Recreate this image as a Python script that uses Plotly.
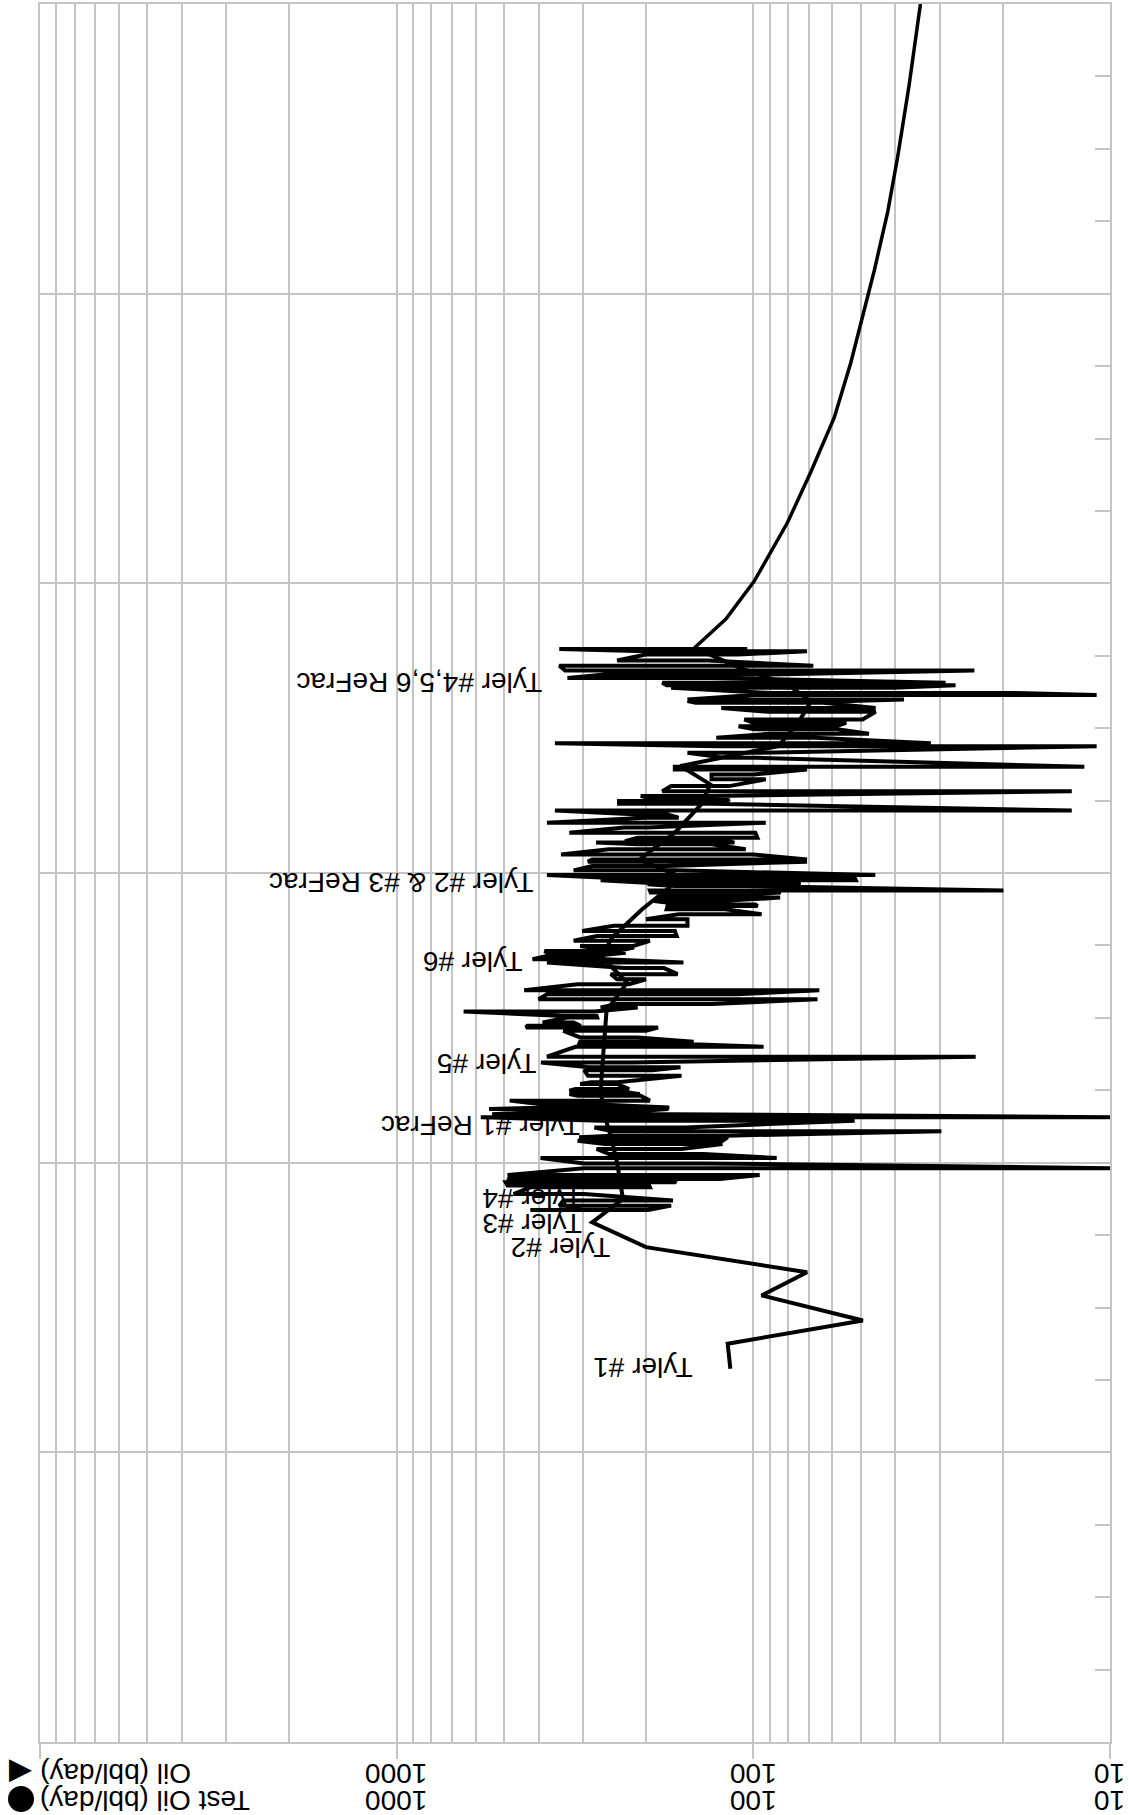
import numpy as np
import plotly.graph_objects as go

# ---------------- data (time in months, rates in bbl/day) ----------------
# daily oil readings: each time step has a high and a low reading
oil_t = [22.04, 22.22, 22.43, 22.70, 22.98, 23.05, 23.19, 23.26, 23.32, 23.49,
         23.77, 23.97, 24.19, 24.36, 24.57, 24.77, 24.91, 25.05, 25.12, 25.30,
         25.46, 25.74, 25.88, 26.01, 26.08, 26.22, 26.29, 26.43, 26.57, 26.77,
         26.84, 26.98, 27.05, 27.26, 27.33, 27.60, 27.83, 27.95, 28.15, 28.39,
         28.80, 28.91, 29.01, 29.19, 29.46, 29.60, 29.67, 29.81, 30.01, 30.08,
         30.26, 30.43, 30.57, 30.77, 30.98, 31.14, 31.39, 31.60, 31.81, 32.06,
         32.29, 32.43, 32.56, 32.70, 32.77, 32.91, 32.98, 33.19, 33.39, 33.60,
         33.81, 34.08, 34.29, 34.50, 34.63, 34.70, 34.84, 34.98, 35.12, 35.19,
         35.28, 35.46, 35.53, 35.60, 35.70, 35.81, 35.92, 36.11, 36.29, 36.47,
         36.56, 36.77, 36.98, 37.19, 37.26, 37.32, 37.46, 37.67, 37.88, 38.08,
         38.29, 38.43, 38.59, 38.87, 38.98, 39.05, 39.19, 39.39, 39.60, 39.88,
         40.08, 40.29, 40.40, 40.77, 40.98, 41.25, 41.38, 41.60, 41.77, 41.95,
         42.08, 42.22, 42.36, 42.68, 42.84, 43.05, 43.12, 43.19, 43.37, 43.46,
         43.67, 43.78, 43.88, 44.08, 44.22, 44.39, 44.59, 44.80, 45.05, 45.19,
         45.28]
oil_hi = [422, 350, 341, 470, 422, 489, 495, 484, 489, 489,
          298, 298, 395, 254, 275, 261, 311, 308, 248, 248,
          279, 268, 581, 540, 422, 551, 370, 400, 482, 311,
          328, 328, 315, 306, 285, 291, 298, 289, 394, 379,
          315, 308, 306, 306, 341, 434, 430, 390, 332, 341,
          649, 268, 241, 400, 379, 439, 311, 241, 251, 230,
          379, 416, 379, 378, 385, 285, 306, 319, 275, 302,
          246, 200, 162, 175, 174, 157, 190, 185, 166, 194,
          195, 166, 198, 200, 268, 268, 379, 319, 283, 291,
          283, 346, 254, 211, 276, 229, 211, 328, 230, 379,
          200, 217, 360, 238, 238, 185, 207, 180, 170, 131,
          131, 166, 166, 120, 153, 127, 360, 127, 90, 99.5,
          110, 100, 106, 91, 123, 145, 153, 153, 100, 90,
          170, 175, 180, 332, 261, 337, 350, 241, 200, 200,
          350]
oil_lo = [197, 170, 168, 298, 195, 196, 166, 165, 124, 96,
          9.5, 138, 86, 138, 159, 122, 122, 118, 119, 29.7,
          155, 52, 9.5, 170, 241, 173, 172, 291, 195, 207,
          208, 240, 223, 241, 240, 159, 192, 160, 220, 23.8,
          93.6, 148, 147, 211, 200, 185, 305, 319, 274, 275,
          279, 211, 131, 66.1, 111, 65.3, 223, 200, 163, 178,
          157, 261, 283, 228, 241, 216, 217, 195, 164, 166,
          153, 153, 94.8, 120, 97.3, 98.7, 124, 84.1, 103, 83.7,
          19.9, 105, 73.6, 89.9, 51.6, 52.0, 45.5, 166, 175, 70.7,
          70.7, 100, 105, 131, 113, 117, 97.4, 98.7, 198, 92.3,
          162, 175, 12.8, 131, 118, 117, 129, 12.8, 117, 92.3,
          100, 70.7, 11.8, 97.4, 97.4, 10.9, 31.8, 67.0, 47.4, 58.1,
          58.7, 54.9, 49.4, 45.4, 45.4, 63.6, 56.8, 37.8, 10.9, 18.9,
          40.4, 27.1, 28.9, 131, 89.9, 24.0, 67.9, 134, 110, 70.7,
          104]

# smoother oil trend (monthly)
trend_t = [15.46, 16.50, 17.46, 18.50, 19.46, 20.50, 21.53, 22.43, 22.50, 24.01,
           25.0, 26.0, 27.0, 28.0, 29.05, 30.29, 31.12, 31.46, 32.50, 33.3,
           34.5, 35.4, 35.94, 36.55, 37.67, 38.84, 39.67, 40.43, 41.25, 42.2,
           43.1, 43.8, 44.5, 45.2]
trend_rate = [116, 118, 49.3, 94.8, 70.7, 200, 283, 235, 232, 241,
              250, 262, 268, 265, 261, 258, 235, 226, 265, 250,
              205, 172, 166, 209, 166, 140, 132, 160, 85.2, 75,
              69, 80, 109, 140]

# decline forecast
forecast_t = [45.31, 46.52, 48.08, 49.30, 50.52, 52.61, 54.87, 57.14, 59.05,
              60.96, 63.39, 65.65, 68.61, 71.91, 72.0]
forecast_rate = [146.6, 119.4, 99.5, 89.3, 80.2, 69.0, 59.3, 53.3, 49.4,
                 45.8, 42.0, 39.4, 36.6, 34.1, 34.0]

# event labels
event_labels = ["Tyler #1", "Tyler #2", "Tyler #3", "Tyler #4", "Tyler #1 ReFrac",
                "Tyler #5", "Tyler #6", "Tyler #2 & #3 ReFrac", "Tyler #4,5,6 ReFrac"]
event_t = [15.52, 20.48, 21.48, 22.51, 25.53, 28.10, 32.36, 35.63, 43.90]
event_rate = [204, 347, 416, 416, 580, 559, 612, 971, 862]

tick_values = [10, 100, 1000]
legend_labels = ["Oil (bbl/day)", "Test Oil (bbl/day)"]

# ---------------- build figure ----------------
GRID = "#c4c4c4"
FONT = "Liberation Sans, Arial, sans-serif"
W, H = 1129, 1815
ML, MR, MT, MB = 40, 19, 2, 73
PW, PH = W - ML - MR, H - MT - MB

x_daily, y_daily = [], []
for i, (t, hi, lo) in enumerate(zip(oil_t, oil_hi, oil_lo)):
    pair = (hi, lo) if i % 2 == 0 else (lo, hi)
    x_daily += list(pair)
    y_daily += [t, t]

fig = go.Figure()
line_style = dict(color="black", width=4)
fig.add_trace(go.Scatter(x=x_daily, y=y_daily, mode="lines", line=line_style,
                         name="Oil (bbl/day)", hoverinfo="skip", showlegend=False))
fig.add_trace(go.Scatter(x=trend_rate, y=trend_t, mode="lines", line=line_style,
                         name="Oil trend", hoverinfo="skip", showlegend=False))
fig.add_trace(go.Scatter(x=forecast_rate, y=forecast_t, mode="lines",
                         line=dict(color="black", width=3.5),
                         name="Forecast", hoverinfo="skip", showlegend=False))

annotations = []
for lab, t, r in zip(event_labels, event_t, event_rate):
    annotations.append(dict(x=np.log10(r), y=t, xref="x", yref="y", text=lab,
                            showarrow=False, textangle=180,
                            xanchor="center", yanchor="middle",
                            font=dict(family=FONT, size=28, color="black")))

row_px = [1773, 1800]
for k, py in enumerate(row_px):
    yp = (H - MB - py) / PH
    for v in tick_values:
        annotations.append(dict(x=np.log10(v), y=yp, xref="x", yref="paper",
                                text=str(v), showarrow=False, textangle=180,
                                xanchor="center", yanchor="middle",
                                font=dict(family=FONT, size=28, color="black")))
    annotations.append(dict(x=(38 - ML) / PW, y=yp, xref="paper", yref="paper",
                            text=legend_labels[k], showarrow=False, textangle=180,
                            xanchor="left", yanchor="middle",
                            font=dict(family=FONT, size=28, color="black")))

# legend marker glyphs: triangle as text, circle as a pixel-sized shape
annotations.append(dict(x=(21 - ML) / PW, y=(H - MB - 1773) / PH,
                        xref="paper", yref="paper", text="\u25C0",
                        showarrow=False, textangle=180,
                        xanchor="center", yanchor="middle",
                        font=dict(family="DejaVu Sans", size=30, color="black")))
shapes = [dict(type="circle", xref="paper", yref="paper",
               xsizemode="pixel", ysizemode="pixel",
               xanchor=(21 - ML) / PW, yanchor=(H - MB - 1799) / PH,
               x0=-13, x1=13, y0=-13, y1=13,
               fillcolor="black", line=dict(width=0), layer="above")]

fig.update_layout(
    width=W, height=H,
    margin=dict(l=ML, r=MR, t=MT, b=MB, pad=0),
    paper_bgcolor="white", plot_bgcolor="white",
    showlegend=False,
    annotations=annotations,
    shapes=shapes,
    xaxis=dict(type="log", range=[4, 1], dtick=1,
               showgrid=True, gridcolor=GRID, gridwidth=2,
               ticks="outside", ticklen=15, tickwidth=2, tickcolor=GRID,
               showticklabels=False, zeroline=False,
               showline=True, linecolor=GRID, linewidth=2, mirror=True,
               minor=dict(dtick="D1", showgrid=True, gridcolor=GRID, gridwidth=2, ticks="")),
    yaxis=dict(range=[0, 72], dtick=12, side="right",
               showgrid=True, gridcolor=GRID, gridwidth=2,
               ticks="", showticklabels=False, zeroline=False,
               showline=True, linecolor=GRID, linewidth=2, mirror=True,
               minor=dict(dtick=3, ticks="inside", ticklen=15, tickwidth=2,
                          tickcolor=GRID, showgrid=False)),
)

fig.write_html("out.html")
